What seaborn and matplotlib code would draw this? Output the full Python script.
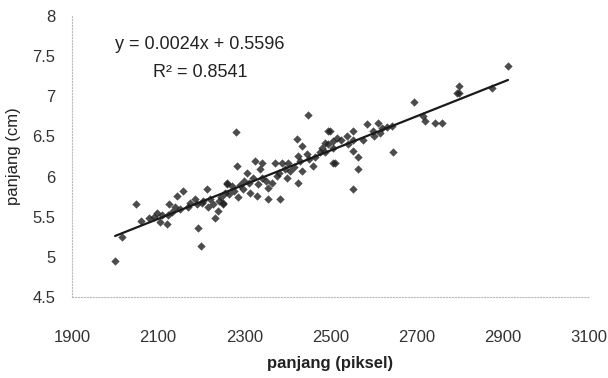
"""Scatter of length in pixels vs length in cm with linear fit."""

import matplotlib

matplotlib.use("Agg")

import matplotlib.pyplot as plt
import numpy as np
import pandas as pd
import seaborn as sns

# values
panjang_piksel = [
    2000, 2016, 2048, 2079, 2097, 2104, 2120, 2125, 2143, 2158,
    2132, 2123, 2139, 2174, 2190, 2201, 2213, 2192, 2199, 2227,
    2232, 2239, 2250, 2259, 2220, 2242, 2280, 2283, 2259, 2271,
    2306, 2325, 2341, 2336, 2320, 2332, 2355, 2313, 2329, 2355,
    2383, 2371, 2387, 2401, 2376, 2399, 2406, 2424, 2422, 2434,
    2424, 2445, 2434, 2459, 2487, 2494, 2506, 2506, 2297, 2285,
    2250, 2693, 2499, 2552, 2538, 2585, 2610, 2615, 2643, 2631,
    2599, 2576, 2552, 2487, 2506, 2552, 2564, 2510, 2645, 2564,
    2552, 2714, 2719, 2742, 2793, 2912, 2798, 2798, 2874, 2758,
    2448, 2265, 2275, 2290, 2300, 2310, 2245, 2255, 2350, 2365,
    2340, 2380, 2395, 2415, 2430, 2450, 2465, 2475, 2480, 2495,
    2515, 2525, 2540, 2600, 2620, 2060, 2090, 2110, 2150, 2170,
    2185, 2205, 2215,
]
panjang_cm = [
    4.95, 5.25, 5.66, 5.48, 5.55, 5.43, 5.41, 5.66, 5.76, 5.82,
    5.56, 5.52, 5.62, 5.67, 5.66, 5.67, 5.85, 5.36, 5.13, 5.66,
    5.49, 5.57, 5.66, 5.91, 5.72, 5.70, 6.56, 6.13, 5.92, 5.88,
    6.04, 6.19, 6.17, 6.10, 5.98, 5.91, 5.86, 5.80, 5.76, 5.72,
    5.72, 6.17, 6.17, 6.17, 6.01, 5.98, 6.07, 5.92, 6.47, 6.38,
    6.26, 6.28, 6.07, 6.13, 6.30, 6.57, 6.44, 6.17, 5.85, 5.74,
    5.67, 6.93, 6.57, 6.57, 6.51, 6.65, 6.67, 6.54, 6.63, 6.62,
    6.57, 6.45, 6.45, 6.42, 6.36, 6.32, 6.24, 6.17, 6.30, 6.09,
    5.84, 6.76, 6.69, 6.67, 7.04, 7.38, 7.13, 7.04, 7.10, 6.67,
    6.77, 5.78, 5.82, 5.90, 5.95, 5.92, 5.75, 5.80, 5.95, 5.92,
    5.98, 6.05, 6.10, 6.12, 6.20, 6.22, 6.25, 6.30, 6.35, 6.40,
    6.48, 6.45, 6.40, 6.50, 6.60, 5.45, 5.50, 5.52, 5.60, 5.62,
    5.72, 5.70, 5.62,
]
x_ticks = [1900, 2100, 2300, 2500, 2700, 2900, 3100]
y_ticks = [4.5, 5, 5.5, 6, 6.5, 7, 7.5, 8]
persamaan = "y = 0.0024x + 0.5596"
r_kuadrat = "R² = 0.8541"

data = pd.DataFrame({"piksel": panjang_piksel, "cm": panjang_cm})

sns.set_theme(style="white")
plt.rcParams["font.family"] = ["Liberation Sans", "DejaVu Sans"]

fig = plt.figure(figsize=(6.08, 3.78), dpi=100)
ax = fig.add_axes([72 / 608, 1 - 297 / 378, 517 / 608, 281 / 378])

sns.regplot(
    data=data,
    x="piksel",
    y="cm",
    ci=None,
    marker="D",
    scatter_kws={"s": 18, "color": "#1f1f1f", "linewidths": 0},
    line_kws={"color": "#1a1a1a", "linewidth": 1.6},
    ax=ax,
)

ax.set_xlim(1900, 3100)
ax.set_ylim(4.5, 8)
ax.set_xticks(x_ticks)
ax.set_yticks(y_ticks)
ax.set_yticklabels([f"{v:g}" for v in y_ticks])
ax.tick_params(axis="x", length=0, pad=24, labelsize=12, colors="#333333")
ax.tick_params(axis="y", length=0, pad=12, labelsize=12, colors="#333333")

for side in ["top", "right"]:
    ax.spines[side].set_visible(False)
for side in ["left", "bottom"]:
    ax.spines[side].set_linestyle(":")
    ax.spines[side].set_color("#bbbbbb")
    ax.spines[side].set_linewidth(0.8)

ax.set_xlabel("panjang (piksel)", fontsize=12, fontweight="bold", color="#222222", labelpad=8)
ax.set_ylabel("panjang (cm)", fontsize=12, color="#222222", labelpad=8)

ax.text(0.248, 0.90, persamaan, transform=ax.transAxes, ha="center", va="center",
        fontsize=13, color="#222222")
ax.text(0.248, 0.80, r_kuadrat, transform=ax.transAxes, ha="center", va="center",
        fontsize=13, color="#222222")

fig.savefig("out.png", dpi=100)
plt.close(fig)
